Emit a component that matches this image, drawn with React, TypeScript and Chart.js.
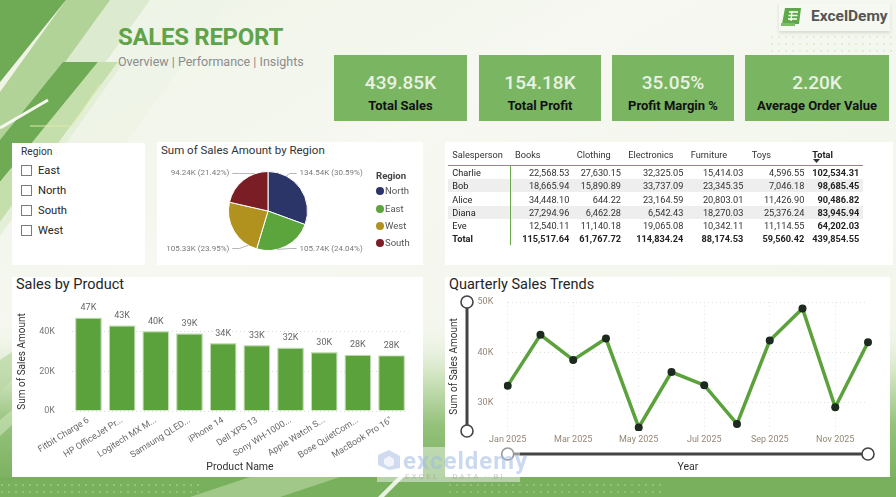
import React, { useEffect, useRef } from "react";
import { Chart, registerables } from "chart.js";

Chart.register(...registerables);

const FONT = "Roboto, 'Noto Sans', 'DejaVu Sans', sans-serif";

// ---------------- DATA ----------------
const reportTitle = "SALES REPORT";
const reportSubtitle = "Overview | Performance | Insights";

const kpiValues = ["439.85K", "154.18K", "35.05%", "2.20K"];
const kpiLabels = ["Total Sales", "Total Profit", "Profit Margin %", "Average Order Value"];

const slicerTitle = "Region";
const slicerItems = ["East", "North", "South", "West"];

const pieTitle = "Sum of Sales Amount by Region";
const regions = ["North", "East", "West", "South"];
const regionSales = [134540, 105740, 105330, 94236];
const regionColors = ["#2c3567", "#5ca53c", "#b2921f", "#7b1d25"];

const tableCategories = ["Books", "Clothing", "Electronics", "Furniture", "Toys"];
const salespeople = ["Charlie", "Bob", "Alice", "Diana", "Eve"];
const booksSales = [22568.53, 18665.94, 34448.1, 27294.96, 12540.11];
const clothingSales = [27630.15, 15890.89, 644.22, 6462.28, 11140.18];
const electronicsSales = [32325.05, 33737.09, 23164.59, 6542.43, 19065.08];
const furnitureSales = [15414.03, 23345.35, 20803.01, 18270.03, 10342.11];
const toysSales = [4596.55, 7046.18, 11426.9, 25376.24, 11114.55];

const barTitle = "Sales by Product";
const productNames = [
  "Fitbit Charge 6",
  "HP OfficeJet Pr...",
  "Logitech MX M...",
  "Samsung QLED...",
  "iPhone 14",
  "Dell XPS 13",
  "Sony WH-1000...",
  "Apple Watch S...",
  "Bose QuietCom...",
  "MacBook Pro 16\"",
];
const productSales = [47200, 43300, 40400, 39300, 34300, 33300, 32100, 29800, 28450, 28200];
const productTicks = [0, 20000, 40000];

const lineTitle = "Quarterly Sales Trends";
const months = [
  "Jan 2025", "Feb 2025", "Mar 2025", "Apr 2025", "May 2025", "Jun 2025",
  "Jul 2025", "Aug 2025", "Sep 2025", "Oct 2025", "Nov 2025", "Dec 2025",
];
const monthlySales = [33400, 43500, 38500, 42750, 25100, 36100, 33500, 25800, 42350, 48700, 29100, 42000];
const trendTicks = [30000, 40000, 50000];

// ---------------- HELPERS ----------------
type TProps = {
  x: number; y: number; size: number; children: React.ReactNode;
  color?: string; weight?: number; align?: "left" | "right" | "center"; family?: string;
  style?: React.CSSProperties;
};
function T({ x, y, size, children, color = "#333", weight = 400, align = "left", family = FONT, style }: TProps) {
  const tr = align === "right" ? "translateX(-100%)" : align === "center" ? "translateX(-50%)" : undefined;
  return (
    <div
      style={{
        position: "absolute", left: x, top: y - 0.4865 * size, fontSize: size, lineHeight: 1,
        color, fontWeight: weight, fontFamily: family, whiteSpace: "nowrap", transform: tr, ...style,
      }}
    >
      {children}
    </div>
  );
}

function Panel({ x, y, w, h }: { x: number; y: number; w: number; h: number }) {
  return <div style={{ position: "absolute", left: x, top: y, width: w, height: h, background: "#ffffff" }} />;
}

const fmt = new Intl.NumberFormat("en-US", { minimumFractionDigits: 2, maximumFractionDigits: 2 });
const kFmt = (v: number) => Math.round(v / 1000) + "K";

// ---------------- BACKGROUND ----------------
function Background() {
  return (
    <svg width={896} height={497} style={{ position: "absolute", left: 0, top: 0 }}>
      <defs>
        <linearGradient id="bgG" x1="0" y1="0" x2="1" y2="1">
          <stop offset="0" stopColor="#edf3e4" />
          <stop offset="0.35" stopColor="#f6f8f1" />
          <stop offset="1" stopColor="#f1f5ea" />
        </linearGradient>
        <linearGradient id="botG" x1="0" y1="0" x2="0" y2="1">
          <stop offset="0" stopColor="#f3f6ee" stopOpacity="0" />
          <stop offset="0.3" stopColor="#d4e6c4" />
          <stop offset="0.6" stopColor="#93c179" />
          <stop offset="1" stopColor="#74ad59" />
        </linearGradient>
        <pattern id="dots" width="7" height="7" patternUnits="userSpaceOnUse">
          <circle cx="2" cy="2" r="1" fill="#d6e6c5" />
        </pattern>
        <pattern id="dots2" width="7" height="7" patternUnits="userSpaceOnUse">
          <circle cx="2" cy="2" r="1.1" fill="#a7cc8f" />
        </pattern>
      </defs>
      <rect x={0} y={0} width={896} height={497} fill="url(#bgG)" />
      <polygon points="150,0 230,0 120,150 60,150" fill="#eef4e6" opacity="0.8" />
      <rect x={0} y={320} width={896} height={177} fill="url(#botG)" />
      {/* top-left diagonal shapes */}
      <polygon points="105,0 150,0 0,210 0,150" fill="#dcebcf" />
      <polygon points="66,0 110,0 0,152 0,92" fill="#b2d398" />
      <polygon points="0,0 66,0 0,82" fill="#6fab55" />
      <polygon points="63,62 98,62 0,182 0,140" fill="#6fab55" />
      <polygon points="98,62 118,62 0,222 0,182" fill="#c4dfab" />
      <polygon points="118,62 124,62 0,236 0,222" fill="#e3efd6" />
      <polyline points="100,84 72,126 30,126" fill="none" stroke="#dfeaa8" strokeWidth="1" />
      <line x1="48" y1="100" x2="0" y2="128" stroke="#f4f8ee" strokeWidth="3" />
      {/* top right dots */}
      <rect x={770} y={32} width={126} height={20} fill="url(#dots)" opacity="0.8" />
      {/* bottom band */}
      <rect x={0} y={477} width={896} height={20} fill="#78b05d" />
      <rect x={0} y={480} width={200} height={17} fill="url(#dots2)" opacity="0.8" />
      <polygon points="190,497 250,477 340,477 280,497" fill="#a2c889" />
      <polygon points="378,497 398,477 404,477 384,497" fill="#e8f2e0" />
      <rect x={445} y={480} width={220} height={17} fill="url(#dots2)" opacity="0.7" />
      <polygon points="0,360 12,352 12,380 0,392" fill="#b9d7a2" opacity="0.7" />
      <polygon points="0,420 12,410 12,425 0,436" fill="#c5e0b1" opacity="0.7" />
    </svg>
  );
}

// ---------------- HEADER / KPI ----------------
function Header() {
  const boxes = [
    [334, 467],
    [479, 601],
    [612, 734],
    [745, 889],
  ];
  return (
    <>
      <T x={118} y={36.5} size={24} weight={700} color="#5fa34a" style={{ letterSpacing: -0.3 }}>{reportTitle}</T>
      <T x={118} y={62.5} size={12.5} color="#8c8c8c">{reportSubtitle}</T>
      {boxes.map(([l, r], i) => (
        <div key={i} style={{ position: "absolute", left: l, top: 55, width: r - l, height: 66, background: "#7ab562" }} />
      ))}
      {boxes.map(([l, r], i) => (
        <React.Fragment key={"t" + i}>
          <T x={(l + r) / 2} y={82.2} size={19} weight={500} color="#e9f1e3" align="center">{kpiValues[i]}</T>
          <T x={(l + r) / 2} y={105.5} size={13} weight={700} color="#111" align="center">{kpiLabels[i]}</T>
        </React.Fragment>
      ))}
      {/* ExcelDemy logo */}
      <div style={{ position: "absolute", left: 779, top: 3, width: 111, height: 28, background: "rgba(245,248,241,0.9)", boxShadow: "0 2px 3px rgba(120,140,110,0.25)" }} />
      <svg width={24} height={22} style={{ position: "absolute", left: 780, top: 6 }}>
        <path d="M5 2 L21 2 L19 18 L2 18 Z" fill="#5fa84a" />
        <path d="M9 6 L18 6 M8.5 9.5 L17.5 9.5 M8 13 L17 13 M12 5 L11 15" stroke="#ffffff" strokeWidth="1.3" />
        <rect x={1} y={17} width={14} height={3} fill="#7cbf62" />
      </svg>
      <T x={811} y={16.2} size={15.5} weight={700} color="#555">ExcelDemy</T>
    </>
  );
}

// ---------------- SLICER ----------------
function Slicer() {
  const ys = [170, 190, 210, 230];
  return (
    <>
      <Panel x={12} y={143} w={133} h={122} />
      <T x={21} y={152.3} size={10.2} color="#333">{slicerTitle}</T>
      {slicerItems.map((s, i) => (
        <React.Fragment key={s}>
          <div style={{ position: "absolute", left: 21, top: ys[i] - 5.5, width: 9, height: 9, border: "1px solid #7a7a7a", background: "#fff" }} />
          <T x={38} y={ys[i]} size={11.2} color="#252525">{s}</T>
        </React.Fragment>
      ))}
    </>
  );
}

// ---------------- PIE ----------------
const pieLabelPlugin = {
  id: "pieLabels",
  afterDraw(chart: any) {
    const ctx = chart.ctx as CanvasRenderingContext2D;
    const meta = chart.getDatasetMeta(0);
    const data = chart.data.datasets[0].data as number[];
    const total = data.reduce((a, b) => a + b, 0);
    ctx.save();
    ctx.font = `8px ${FONT}`;
    ctx.fillStyle = "#7a7a7a";
    ctx.strokeStyle = "#b5b5b5";
    ctx.lineWidth = 1;
    ctx.textBaseline = "middle";
    meta.data.forEach((arc: any, i: number) => {
      const p = arc.getProps(["x", "y", "startAngle", "endAngle", "outerRadius"], true);
      const cx = p.x, cy = p.y, r = p.outerRadius;
      const mid = (p.startAngle + p.endAngle) / 2;
      let th = mid + Math.PI / 2;
      th = ((th % (2 * Math.PI)) + 2 * Math.PI) % (2 * Math.PI);
      const right = Math.sin(th) > 0;
      const upper = Math.cos(th) > 0;
      const target = upper ? (th > Math.PI ? 2 * Math.PI : 0) : Math.PI;
      const ta = th + 0.5 * (target - th);
      const ax = cx + r * Math.sin(ta), ay = cy - r * Math.cos(ta);
      const ly = cy + (upper ? -1 : 1) * r * 0.95;
      const tx = right ? cx + r * 0.8 : cx - r * 0.98;
      const dir = right ? 1 : -1;
      ctx.beginPath();
      ctx.moveTo(ax, ay);
      ctx.lineTo(tx - dir * 10, ly);
      ctx.lineTo(tx - dir * 3, ly);
      ctx.stroke();
      ctx.textAlign = right ? "left" : "right";
      const v = data[i];
      ctx.fillText(`${(v / 1000).toFixed(2)}K (${((v / total) * 100).toFixed(2)}%)`, tx, ly);
    });
    ctx.restore();
  },
};

function PiePanel() {
  const ref = useRef<HTMLCanvasElement>(null);
  useEffect(() => {
    const chart = new Chart(ref.current!, {
      type: "pie",
      data: {
        labels: regions,
        datasets: [{ data: regionSales, backgroundColor: regionColors, borderColor: "#ffffff", borderWidth: 1 }],
      },
      options: {
        animation: false,
        responsive: false,
        devicePixelRatio: 1,
        layout: { padding: { left: 71, right: 115, top: 29, bottom: 14 } },
        plugins: { legend: { display: false }, tooltip: { enabled: false } },
      },
      plugins: [pieLabelPlugin],
    });
    return () => chart.destroy();
  }, []);
  const legendY = [190.7, 209, 225.7, 242.7];
  return (
    <>
      <Panel x={157} y={142} w={266} h={123} />
      <T x={161} y={150.5} size={11.5} color="#333">{pieTitle}</T>
      <canvas ref={ref} width={266} height={123} style={{ position: "absolute", left: 157, top: 142 }} />
      <T x={376} y={176} size={9.6} weight={700} color="#444">Region</T>
      {regions.map((r, i) => (
        <React.Fragment key={r}>
          <div style={{ position: "absolute", left: 375.5, top: legendY[i] - 4, width: 8, height: 8, borderRadius: 4, background: regionColors[i] }} />
          <T x={385} y={legendY[i]} size={9.5} color="#555">{r}</T>
        </React.Fragment>
      ))}
    </>
  );
}

// ---------------- TABLE ----------------
function TablePanel() {
  const columns = [booksSales, clothingSales, electronicsSales, furnitureSales, toysSales];
  const rowTotals = salespeople.map((_, r) => columns.reduce((s, c) => s + c[r], 0));
  const colTotals = columns.map((c) => c.reduce((s, v) => s + v, 0));
  const grand = rowTotals.reduce((s, v) => s + v, 0);
  const headerX = [515, 576.7, 628.3, 690.7, 751.7, 812.3];
  const rightX = [569.3, 621, 683.3, 743.3, 804.3, 859.3];
  const rowY = [172.7, 185.9, 199.1, 212.3, 225.5, 238.7];
  const fs = 9.2;
  return (
    <>
      <Panel x={445} y={142} w={448} h={123} />
      <T x={452.3} y={154} size={fs} color="#333">Salesperson</T>
      {tableCategories.map((c, i) => (
        <T key={c} x={headerX[i]} y={154} size={fs} color="#333">{c}</T>
      ))}
      <T x={headerX[5]} y={154} size={fs} weight={700} color="#222">Total</T>
      <svg width={8} height={5} style={{ position: "absolute", left: 813, top: 159 }}>
        <path d="M0 0 L7 0 L3.5 4 Z" fill="#333" />
      </svg>
      {[1, 3].map((r) => (
        <div key={r} style={{ position: "absolute", left: 448, top: rowY[r] - 6.6, width: 415, height: 13.2, background: "#eeeeee" }} />
      ))}
      <div style={{ position: "absolute", left: 448, top: 164.5, width: 415, height: 1.5, background: "#6aaa4c" }} />
      <div style={{ position: "absolute", left: 510, top: 165, width: 1, height: 80, background: "#6aaa4c" }} />
      {salespeople.map((p, r) => (
        <React.Fragment key={p}>
          <T x={452.3} y={rowY[r]} size={fs} color="#222">{p}</T>
          {columns.map((c, ci) => (
            <T key={ci} x={rightX[ci]} y={rowY[r]} size={fs} color="#333" align="right">{fmt.format(c[r])}</T>
          ))}
          <T x={rightX[5]} y={rowY[r]} size={fs} weight={700} color="#222" align="right">{fmt.format(rowTotals[r])}</T>
        </React.Fragment>
      ))}
      <T x={452.3} y={rowY[5]} size={fs} weight={700} color="#222">Total</T>
      {colTotals.map((v, ci) => (
        <T key={ci} x={rightX[ci]} y={rowY[5]} size={fs} weight={700} color="#222" align="right">{fmt.format(v)}</T>
      ))}
      <T x={rightX[5]} y={rowY[5]} size={fs} weight={700} color="#222" align="right">{fmt.format(grand)}</T>
    </>
  );
}

// ---------------- BAR ----------------
const barLabelPlugin = {
  id: "barLabels",
  afterDatasetsDraw(chart: any) {
    const ctx = chart.ctx as CanvasRenderingContext2D;
    const meta = chart.getDatasetMeta(0);
    const data = chart.data.datasets[0].data as number[];
    ctx.save();
    ctx.font = `9px ${FONT}`;
    ctx.fillStyle = "#666";
    ctx.textAlign = "center";
    ctx.textBaseline = "middle";
    meta.data.forEach((bar: any, i: number) => {
      ctx.fillText(kFmt(data[i]), bar.x, bar.y - 9.5);
    });
    ctx.restore();
  },
};

function BarPanel() {
  const ref = useRef<HTMLCanvasElement>(null);
  useEffect(() => {
    const chart = new Chart(ref.current!, {
      type: "bar",
      data: {
        labels: productNames,
        datasets: [{
          data: productSales, backgroundColor: "#5ba23c", borderColor: "#c9e0bb", borderWidth: 1.2,
          barPercentage: 0.8, categoryPercentage: 1,
        }],
      },
      options: {
        animation: false,
        responsive: false,
        devicePixelRatio: 1,
        layout: { padding: { left: 0, right: 14.6, top: 35, bottom: 0 } },
        plugins: { legend: { display: false }, tooltip: { enabled: false } },
        scales: {
          x: {
            grid: { display: false, drawTicks: false },
            border: { display: false },
            ticks: { autoSkip: false, minRotation: 32, maxRotation: 32, padding: 4, color: "#6a6a6a", font: { family: FONT, size: 9 } },
            title: { display: true, text: "Product Name", color: "#333", font: { family: FONT, size: 10.5 }, padding: { top: 0, bottom: 3 } },
            afterFit: (s: any) => { s.height = 66; },
          },
          y: {
            min: 0, max: 50000,
            afterBuildTicks: (s: any) => { s.ticks = productTicks.map((v) => ({ value: v })); },
            grid: { color: "#d6d6d6", drawTicks: false },
            border: { display: false, dash: [1, 3] },
            ticks: { padding: 16.6, color: "#777", font: { family: FONT, size: 9 }, callback: (v: any) => Number(v) / 1000 + "K" },
            title: { display: true, text: "Sum of Sales Amount", color: "#333", font: { family: FONT, size: 10 }, padding: { top: 4, bottom: 0 } },
            afterFit: (s: any) => { s.width = 59.6; },
          },
        },
      },
      plugins: [barLabelPlugin],
    });
    return () => chart.destroy();
  }, []);
  return (
    <>
      <Panel x={12} y={277} w={411} h={200} />
      <T x={16} y={285.3} size={14.5} color="#252525">{barTitle}</T>
      <canvas ref={ref} width={411} height={200} style={{ position: "absolute", left: 12, top: 277 }} />
    </>
  );
}

// ---------------- LINE ----------------
const sliderPlugin = {
  id: "sliders",
  afterDraw(chart: any) {
    const ctx = chart.ctx as CanvasRenderingContext2D;
    const { left, right, top, bottom } = chart.chartArea;
    const vx = left - 40.7;
    const hy = bottom + 23;
    ctx.save();
    ctx.strokeStyle = "#444";
    ctx.lineWidth = 3;
    ctx.beginPath();
    ctx.moveTo(vx, top); ctx.lineTo(vx, bottom);
    ctx.moveTo(left, hy); ctx.lineTo(right, hy);
    ctx.stroke();
    const knobs = [[vx, top], [vx, bottom], [left, hy], [right, hy]];
    ctx.lineWidth = 1.6;
    knobs.forEach(([x, y]) => {
      ctx.beginPath();
      ctx.arc(x, y, 6, 0, Math.PI * 2);
      ctx.fillStyle = "#ffffff";
      ctx.fill();
      ctx.stroke();
    });
    ctx.restore();
  },
};

function LinePanel() {
  const ref = useRef<HTMLCanvasElement>(null);
  useEffect(() => {
    const chart = new Chart(ref.current!, {
      type: "line",
      data: {
        labels: months,
        datasets: [{
          data: monthlySales, borderColor: "#5ba23c", borderWidth: 3.5, tension: 0,
          pointRadius: 4, pointBackgroundColor: "#1d2a1f", pointBorderWidth: 0, fill: false,
        }],
      },
      options: {
        animation: false,
        responsive: false,
        devicePixelRatio: 1,
        layout: { padding: { left: 0, right: 22, top: 25, bottom: 0 } },
        plugins: { legend: { display: false }, tooltip: { enabled: false } },
        scales: {
          x: {
            offset: false,
            grid: { drawTicks: false, color: (c: any) => (c.index % 2 === 0 ? "#e6e6e6" : "rgba(0,0,0,0)") },
            border: { display: false, dash: [1, 3] },
            ticks: {
              autoSkip: false, maxRotation: 0, minRotation: 0, padding: 3, color: "#968777",
              font: { family: FONT, size: 9 },
              callback: function (this: any, v: any, i: number) { return i % 2 === 0 ? this.getLabelForValue(v) : ""; },
            },
            title: { display: true, text: "Year", color: "#333", font: { family: FONT, size: 10.5 }, padding: { top: 0, bottom: 3 } },
            afterFit: (s: any) => { s.height = 46; },
          },
          y: {
            min: 24400, max: 50000,
            afterBuildTicks: (s: any) => { s.ticks = trendTicks.map((v) => ({ value: v })); },
            grid: { color: "#e2e2e2", drawTicks: false },
            border: { display: false, dash: [1, 3] },
            ticks: { padding: 14.4, color: "#968777", font: { family: FONT, size: 9 }, callback: (v: any) => Number(v) / 1000 + "K" },
            title: { display: true, text: "Sum of Sales Amount", color: "#333", font: { family: FONT, size: 10 }, padding: { top: 3, bottom: 0 } },
            afterFit: (s: any) => { s.width = 62.7; },
          },
        },
      },
      plugins: [sliderPlugin],
    });
    return () => chart.destroy();
  }, []);
  return (
    <>
      <Panel x={445} y={277} w={445} h={200} />
      <T x={449} y={285.3} size={14.5} color="#252525">{lineTitle}</T>
      <canvas ref={ref} width={445} height={200} style={{ position: "absolute", left: 445, top: 277 }} />
    </>
  );
}

function Watermark() {
  return (
    <>
      <div style={{ position: "absolute", left: 377, top: 447, width: 143, height: 35, background: "rgba(255,255,255,0.45)" }} />
      <svg width={24} height={22} style={{ position: "absolute", left: 377, top: 449 }}>
        <path d="M12 1 L23 7 L23 19 L12 21 L1 16 L1 6 Z" fill="rgba(170,190,225,0.55)" />
        <path d="M12 7 L17 10 L17 16 L12 18 L7 15 L7 10 Z" fill="rgba(255,255,255,0.7)" />
      </svg>
      <T x={403} y={461} size={24} weight={700} color="rgba(160,185,228,0.55)" style={{ letterSpacing: 1 }}>exceldemy</T>
      <T x={405} y={477} size={8} color="rgba(150,150,150,0.5)" style={{ letterSpacing: 2.2 }}>EXCEL · DATA · BI</T>
    </>
  );
}

export default function App() {
  useEffect(() => {
    document.body.style.margin = "0";
    document.body.style.overflow = "hidden";
  }, []);
  return (
    <div style={{ position: "absolute", left: 0, top: 0, width: 896, height: 497, overflow: "hidden", fontFamily: FONT }}>
      <Background />
      <Header />
      <Slicer />
      <PiePanel />
      <TablePanel />
      <BarPanel />
      <LinePanel />
      <Watermark />
    </div>
  );
}
